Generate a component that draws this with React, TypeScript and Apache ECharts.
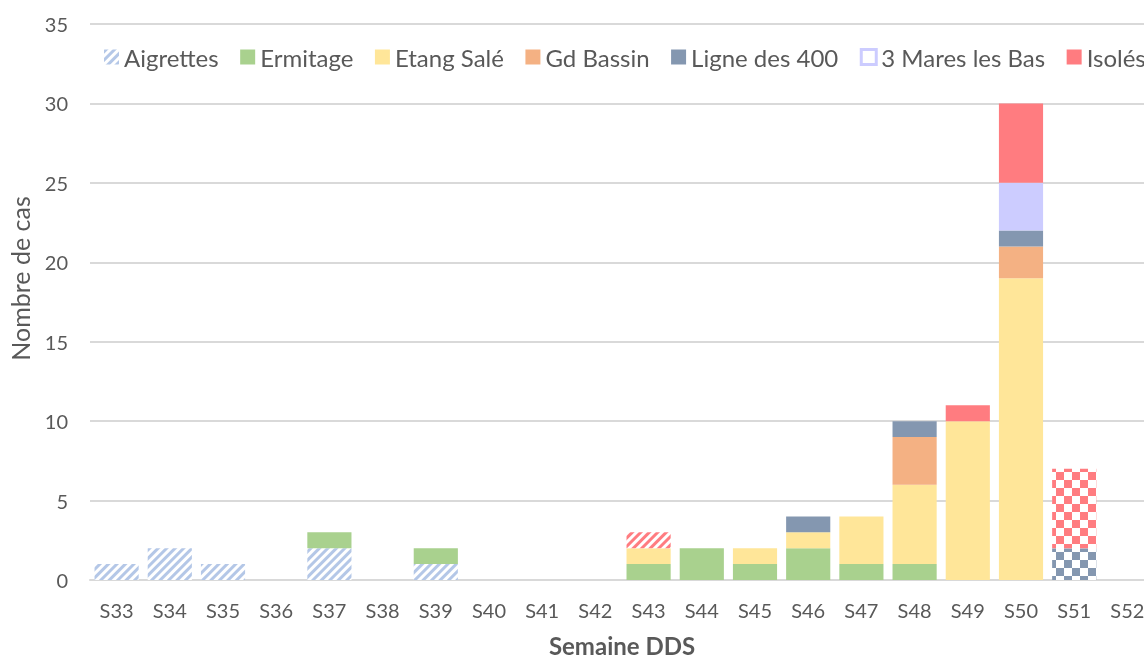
import React, { useEffect, useRef } from "react";
import * as echarts from "echarts";

const weeks = ["S33","S34","S35","S36","S37","S38","S39","S40","S41","S42","S43","S44","S45","S46","S47","S48","S49","S50","S51","S52"];
const aigrettes   = [1,2,1,0,2,0,1,0,0,0,0,0,0,0,0,0,0,0,0,0];
const ermitage    = [0,0,0,0,1,0,1,0,0,0,1,2,1,2,1,1,0,0,0,0];
const etangSale   = [0,0,0,0,0,0,0,0,0,0,1,0,1,1,3,5,10,19,0,0];
const gdBassin    = [0,0,0,0,0,0,0,0,0,0,0,0,0,0,0,3,0,2,0,0];
const ligne400    = [0,0,0,0,0,0,0,0,0,0,0,0,0,1,0,1,0,1,2,0];
const troisMares  = [0,0,0,0,0,0,0,0,0,0,0,0,0,0,0,0,0,3,0,0];
const isoles      = [0,0,0,0,0,0,0,0,0,0,1,0,0,0,0,0,1,5,5,0];
const yTicks = [0,5,10,15,20,25,30,35];

// weeks drawn with a hatched / checkered fill
const hatchedWeeks: Record<string, string[]> = { "Isolés": ["S43"] };
const checkedWeeks: Record<string, string[]> = { "Ligne des 400": ["S51"], "Isolés": ["S51"] };

const FONT = "Lato, 'Open Sans', sans-serif";
const TXT = "#595959";

const hatch = (color: string) => ({
  symbol: "rect",
  symbolSize: 1,
  color,
  dashArrayX: [1, 0],
  dashArrayY: [3, 3],
  rotation: -Math.PI / 4,
});
const checker = (color: string) => ({
  symbol: "rect",
  symbolSize: 1,
  color,
  dashArrayX: [[8, 8], [0, 8, 8, 0]],
  dashArrayY: [8, 0],
});

export default function App() {
  const ref = useRef<HTMLDivElement>(null);
  useEffect(() => {
    document.body.style.margin = "0";
    document.body.style.overflow = "hidden";
    const chart = echarts.init(ref.current!, undefined, { renderer: "svg" });
    const defs = [
      { name: "Aigrettes", data: aigrettes, color: "#b4c7e7", hatchAll: true },
      { name: "Ermitage", data: ermitage, color: "#a9d18e" },
      { name: "Etang Salé", data: etangSale, color: "#ffe699" },
      { name: "Gd Bassin", data: gdBassin, color: "#f4b183" },
      { name: "Ligne des 400", data: ligne400, color: "#8497b0" },
      { name: "3 Mares les Bas", data: troisMares, color: "#ccccff" },
      { name: "Isolés", data: isoles, color: "#ff7c80" },
    ];
    const series = defs.map((d: any) => {
      const h = hatchedWeeks[d.name] || [];
      const c = checkedWeeks[d.name] || [];
      const data = d.data.map((v: number, i: number) => {
        const w = weeks[i];
        if (h.includes(w)) return { value: v, itemStyle: { color: "#ffffff", decal: hatch(d.color) } };
        if (c.includes(w)) return { value: v, itemStyle: { color: "#ffffff", decal: checker(d.color) } };
        return v;
      });
      return {
        name: d.name,
        type: "bar",
        stack: "total",
        barCategoryGap: "17%",
        data,
        itemStyle: d.hatchAll
          ? { color: "#ffffff", decal: hatch(d.color) }
          : { color: d.color },
      };
    });
    chart.setOption({
      animation: false,
      textStyle: { fontFamily: FONT },
      grid: { left: 90, right: 6, top: 24, bottom: 80, containLabel: false, outerBoundsMode: "none" },
      legend: {
        left: 99,
        top: 40,
        itemWidth: 15,
        itemHeight: 15,
        itemGap: 21.5,
        icon: "rect",
        textStyle: { fontFamily: FONT, fontSize: 24, color: TXT },
        data: defs.map((d: any) =>
          d.name === "3 Mares les Bas"
            ? { name: d.name, itemStyle: { color: "#ffffff", borderColor: d.color, borderWidth: 3 } }
            : { name: d.name }
        ),
      },
      xAxis: {
        type: "category",
        data: weeks,
        name: "Semaine DDS",
        nameLocation: "middle",
        nameGap: 56,
        nameTextStyle: { fontFamily: FONT, fontSize: 24, lineHeight: 18, fontWeight: "bold", color: TXT },
        axisLine: { lineStyle: { color: "#d9d9d9", width: 2 } },
        axisTick: { show: false },
        axisLabel: { fontFamily: FONT, fontSize: 20, color: TXT, margin: 20 },
      },
      yAxis: {
        type: "value",
        min: yTicks[0],
        max: yTicks[yTicks.length - 1],
        interval: 5,
        name: "Nombre de cas",
        nameLocation: "middle",
        nameGap: 58,
        nameTextStyle: { fontFamily: FONT, fontSize: 25, color: TXT, padding: [0, 0, 0, 47] },
        axisLine: { show: false },
        axisTick: { show: false },
        splitLine: { lineStyle: { color: "#d9d9d9", width: 2 } },
        axisLabel: { fontFamily: FONT, fontSize: 20, color: TXT, margin: 22 },
      },
      series,
    });
    return () => chart.dispose();
  }, []);
  return (
    <div style={{ position: "fixed", left: 0, top: 0, width: 1144, height: 660, overflow: "hidden" }}>
      <div ref={ref} style={{ width: 1160, height: 660 }} />
    </div>
  );
}
